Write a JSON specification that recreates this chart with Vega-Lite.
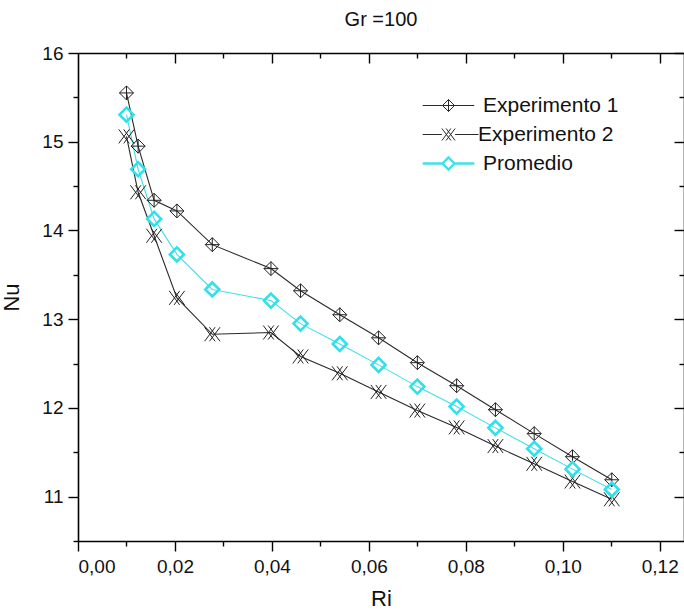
{
  "$schema": "https://vega.github.io/schema/vega-lite/v6.json",
  "width": 606,
  "height": 488,
  "autosize": "none",
  "padding": {"left": 78, "top": 53, "right": 0, "bottom": 74},
  "background": "white",
  "title": {"text": "Gr =100", "fontSize": 20, "font": "Liberation Sans", "fontWeight": "normal", "color": "#111", "anchor": "middle", "offset": 14},
  "config": {
    "view": {"stroke": null},
    "axis": {"grid": false, "domainColor": "#000", "domainWidth": 1.6, "tickColor": "#000", "tickWidth": 1.4, "labelFont": "Liberation Sans", "labelFontSize": 19, "labelColor": "#111", "titleFont": "Liberation Sans", "titleFontSize": 22, "titleFontWeight": "normal", "titleColor": "#111"}
  },
  "data": {"values": [
    {"Ri": 0.0100, "Nu": 15.55, "serie": "Experimento 1"},
    {"Ri": 0.0124, "Nu": 14.95, "serie": "Experimento 1"},
    {"Ri": 0.0157, "Nu": 14.34, "serie": "Experimento 1"},
    {"Ri": 0.0204, "Nu": 14.22, "serie": "Experimento 1"},
    {"Ri": 0.0277, "Nu": 13.84, "serie": "Experimento 1"},
    {"Ri": 0.0398, "Nu": 13.57, "serie": "Experimento 1"},
    {"Ri": 0.0459, "Nu": 13.32, "serie": "Experimento 1"},
    {"Ri": 0.0540, "Nu": 13.05, "serie": "Experimento 1"},
    {"Ri": 0.0620, "Nu": 12.79, "serie": "Experimento 1"},
    {"Ri": 0.0700, "Nu": 12.51, "serie": "Experimento 1"},
    {"Ri": 0.0781, "Nu": 12.25, "serie": "Experimento 1"},
    {"Ri": 0.0861, "Nu": 11.98, "serie": "Experimento 1"},
    {"Ri": 0.0941, "Nu": 11.71, "serie": "Experimento 1"},
    {"Ri": 0.1020, "Nu": 11.45, "serie": "Experimento 1"},
    {"Ri": 0.1101, "Nu": 11.19, "serie": "Experimento 1"},
    {"Ri": 0.0100, "Nu": 15.06, "serie": "Experimento 2"},
    {"Ri": 0.0124, "Nu": 14.43, "serie": "Experimento 2"},
    {"Ri": 0.0157, "Nu": 13.94, "serie": "Experimento 2"},
    {"Ri": 0.0204, "Nu": 13.24, "serie": "Experimento 2"},
    {"Ri": 0.0277, "Nu": 12.83, "serie": "Experimento 2"},
    {"Ri": 0.0398, "Nu": 12.85, "serie": "Experimento 2"},
    {"Ri": 0.0459, "Nu": 12.58, "serie": "Experimento 2"},
    {"Ri": 0.0540, "Nu": 12.39, "serie": "Experimento 2"},
    {"Ri": 0.0620, "Nu": 12.18, "serie": "Experimento 2"},
    {"Ri": 0.0700, "Nu": 11.97, "serie": "Experimento 2"},
    {"Ri": 0.0781, "Nu": 11.78, "serie": "Experimento 2"},
    {"Ri": 0.0861, "Nu": 11.57, "serie": "Experimento 2"},
    {"Ri": 0.0941, "Nu": 11.37, "serie": "Experimento 2"},
    {"Ri": 0.1020, "Nu": 11.17, "serie": "Experimento 2"},
    {"Ri": 0.1101, "Nu": 10.97, "serie": "Experimento 2"},
    {"Ri": 0.0100, "Nu": 15.305, "serie": "Promedio"},
    {"Ri": 0.0124, "Nu": 14.69, "serie": "Promedio"},
    {"Ri": 0.0157, "Nu": 14.13, "serie": "Promedio"},
    {"Ri": 0.0204, "Nu": 13.73, "serie": "Promedio"},
    {"Ri": 0.0277, "Nu": 13.335, "serie": "Promedio"},
    {"Ri": 0.0398, "Nu": 13.21, "serie": "Promedio"},
    {"Ri": 0.0459, "Nu": 12.95, "serie": "Promedio"},
    {"Ri": 0.0540, "Nu": 12.72, "serie": "Promedio"},
    {"Ri": 0.0620, "Nu": 12.485, "serie": "Promedio"},
    {"Ri": 0.0700, "Nu": 12.24, "serie": "Promedio"},
    {"Ri": 0.0781, "Nu": 12.015, "serie": "Promedio"},
    {"Ri": 0.0861, "Nu": 11.775, "serie": "Promedio"},
    {"Ri": 0.0941, "Nu": 11.54, "serie": "Promedio"},
    {"Ri": 0.1020, "Nu": 11.31, "serie": "Promedio"},
    {"Ri": 0.1101, "Nu": 11.08, "serie": "Promedio"}
  ]},
  "resolve": {"axis": {"x": "independent", "y": "independent"}},
  "layer": [
    {
      "mark": {"type": "line", "strokeWidth": 1.1},
      "encoding": {
        "x": {"field": "Ri", "type": "quantitative", "scale": {"domain": [0, 0.125], "nice": false, "zero": false},
              "axis": {"orient": "top", "title": null, "labels": false, "values": [0.01,0.02,0.03,0.04,0.05,0.06,0.07,0.08,0.09,0.1,0.11,0.12],
                       "tickSize": {"condition": {"test": "round(datum.value*100) % 2 === 0", "value": -10}, "value": -5}}},
        "y": {"field": "Nu", "type": "quantitative", "scale": {"domain": [10.5, 16], "nice": false, "zero": false},
              "axis": {"orient": "right", "title": null, "labels": false, "values": [11,11.5,12,12.5,13,13.5,14,14.5,15,15.5,16],
                       "tickSize": {"condition": {"test": "datum.value % 1 === 0", "value": -10}, "value": -5}}},
        "color": {"field": "serie", "type": "nominal", "scale": {"domain": ["Experimento 1", "Experimento 2", "Promedio"], "range": ["#2a2a2a", "#2a2a2a", "#40e0e8"]},
                  "legend": {"title": null, "orient": "none", "legendX": 360, "legendY": 42, "padding": 0, "rowPadding": 7,
                             "symbolSize": 144, "symbolStrokeWidth": 1, "symbolType": "M0,-1L1,0L0,1L-1,0Z", "symbolFillColor": "transparent",
                             "labelFont": "Liberation Sans", "labelFontSize": 21, "labelColor": "#111", "labelOffset": 24, "labelLimit": 300,
                             "encode": {
                               "symbols": {"update": {
                                 "shape": {"signal": "datum.value === 'Experimento 1' ? 'M-4.3,0L-1,0M1,0L4.3,0M0,-1L1,0L0,1L-1,0ZM0,-1L0,1M-1,0L1,0' : datum.value === 'Experimento 2' ? 'M-4.3,0L-1.1,0M1.1,0L5,0M-1.1,-1L0.4,1M-0.4,-1L1.1,1M1.1,-1L-0.4,1M0.4,-1L-1.1,1' : 'M-4.3,0L-1,0M1,0L4.3,0M0,-1L1,0L0,1L-1,0Z'"},
                                 "strokeWidth": {"signal": "datum.value === 'Promedio' ? 2.4 : 1"},
                                 "fill": {"value": "transparent"}
                               }},
                               "labels": {"update": {"dx": {"signal": "datum.value === 'Experimento 2' ? -5 : 0"}}}
                             }}},
        "detail": {"field": "serie"}
      }
    },
    {
      "transform": [{"filter": "datum.serie === 'Experimento 1'"}],
      "mark": {"type": "point", "filled": false, "size": 196, "opacity": 1, "color": "#222", "strokeWidth": 1, "shape": "M0,-1L1,0L0,1L-1,0ZM0,-1L0,1M-1,0L1,0"},
      "encoding": {
        "x": {"field": "Ri", "type": "quantitative", "scale": {"domain": [0, 0.125], "nice": false, "zero": false},
              "axis": {"orient": "bottom", "title": "Ri", "titlePadding": 12, "labelPadding": 6, "values": [0,0.01,0.02,0.03,0.04,0.05,0.06,0.07,0.08,0.09,0.1,0.11,0.12],
                       "labelExpr": "round(datum.value*100) % 2 === 0 ? replace(format(datum.value, '.2f'), '.', ',') : ''",
                       "tickSize": {"condition": {"test": "round(datum.value*100) % 2 === 0", "value": 10}, "value": 5}}},
        "y": {"field": "Nu", "type": "quantitative", "scale": {"domain": [10.5, 16], "nice": false, "zero": false},
              "axis": {"orient": "left", "title": "Nu", "titlePadding": 18, "labelPadding": 5, "values": [10.5,11,11.5,12,12.5,13,13.5,14,14.5,15,15.5,16],
                       "labelExpr": "datum.value % 1 === 0 ? format(datum.value, 'd') : ''",
                       "tickSize": {"condition": {"test": "datum.value % 1 === 0", "value": 10}, "value": 5}}}
      }
    },
    {
      "transform": [{"filter": "datum.serie === 'Experimento 2'"}],
      "mark": {"type": "point", "filled": false, "size": 196, "opacity": 1, "color": "#222", "strokeWidth": 1, "shape": "M-1.1,-1L0.4,1M-0.4,-1L1.1,1M1.1,-1L-0.4,1M0.4,-1L-1.1,1"},
      "encoding": {
        "x": {"field": "Ri", "type": "quantitative", "axis": null},
        "y": {"field": "Nu", "type": "quantitative", "axis": null}
      }
    },
    {
      "transform": [{"filter": "datum.serie === 'Promedio'"}],
      "mark": {"type": "point", "filled": false, "size": 196, "opacity": 1, "color": "#30e0ea", "strokeWidth": 2.6, "shape": "M0,-1L1,0L0,1L-1,0Z"},
      "encoding": {
        "x": {"field": "Ri", "type": "quantitative", "axis": null},
        "y": {"field": "Nu", "type": "quantitative", "axis": null}
      }
    }
  ]
}
